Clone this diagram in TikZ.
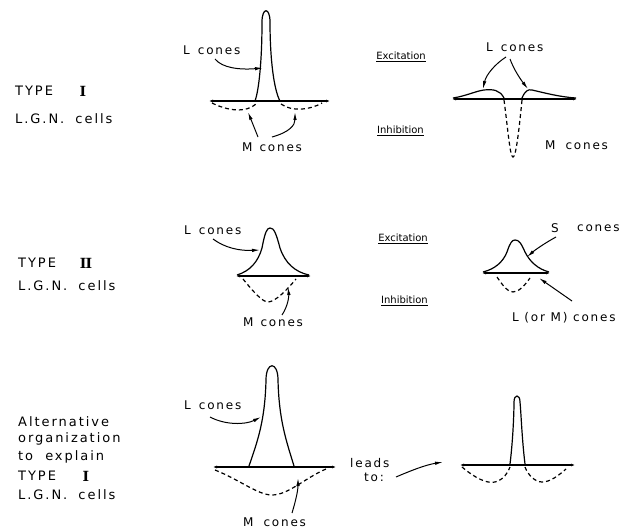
\documentclass[tikz,border=0pt]{standalone}
\usepackage{fontspec}
\setmainfont{DejaVu Sans}
\newfontfamily\lbl[LetterSpace=15]{DejaVu Sans}
\newfontfamily\lbls{DejaVu Sans}
\newfontfamily\rom{DejaVu Serif}
\usetikzlibrary{arrows.meta}
\begin{document}
\begin{tikzpicture}[x=1pt,y=-1pt,
 curve/.style={line width=1.2pt},
 inhib/.style={line width=1.2pt, dash pattern=on 4pt off 3pt},
 axis/.style={line width=1.5pt, {Latex[length=4pt,width=3pt]}-{Latex[length=4pt,width=3pt]}},
 pointer/.style={line width=1pt, -{Latex[length=8pt,width=3.5pt]}},
 lab/.style={font=\lbl\fontsize{12}{14}\selectfont, inner sep=0pt, anchor=west},
 side/.style={font=\lbl\fontsize{13}{15}\selectfont, inner sep=0pt, anchor=west},
 ei/.style={font=\lbls\fontsize{10}{12}\selectfont, inner sep=0pt, anchor=east},
 numeral/.style={font=\rom\bfseries\fontsize{14}{15}\selectfont, inner sep=0pt},
]
\useasboundingbox (0,0) rectangle (636,529);

% ---------- side labels ----------
\node[side] (t1a) at (15,91) {TYPE};
\node[numeral] (n1) at (83,91) {I};
\node[side] (t1b) at (15,119) {L.G.N.\hspace{5pt} cells};
\node[side] (t2a) at (18,263) {TYPE};
\node[numeral] (n2) at (86,263) {I\kern-0.8pt I};
\node[side] (t2b) at (18,286) {L.G.N.\hspace{5pt} cells};
\node[side] (t3a) at (18,422) {Alternative};
\node[side] (t3b) at (18,439) {organization};
\node[side] (t3c) at (18,457) {to\hspace{6pt} explain};
\node[side] (t3d) at (18,476) {TYPE};
\node[numeral] (n3) at (86,476) {I};
\node[side] (t3e) at (18,495) {L.G.N.\hspace{5pt} cells};

% ---------- Excitation / Inhibition ----------
\node[ei] (ex1) at (426,57) {\underline{Excitation}};
\node[ei] (in1) at (424,131) {\underline{Inhibition}};
\node[ei] (ex2) at (428,239) {\underline{Excitation}};
\node[ei] (in2) at (428,301) {\underline{Inhibition}};

% ---------- Panel 1 : Type I, left ----------
\draw[axis] (209,101) -- (330,101);
\draw[curve] (255,101) .. controls (259,90) and (262,60) .. (262,22)
  .. controls (262,7) and (270,7) .. (270,22)
  .. controls (270,60) and (274,90) .. (280,101);
\draw[inhib] (212,103) .. controls (228,111) and (246,113) .. (256,104);
\draw[inhib] (281,104) .. controls (292,112) and (310,110) .. (322,103);
\node[lab] (p1L) at (183,50) {L\hspace{8pt}cones};
\node[lab] (p1M) at (242,147) {M\hspace{7pt}cones};
\coordinate (p1Ls) at (215,59);
\coordinate (p1Le) at (263,68);
\draw[pointer] (p1Ls) .. controls (222,68) and (240,70) .. (p1Le);
\coordinate (p1Ms1) at (258,137);
\coordinate (p1Me1) at (248,112);
\draw[pointer] (p1Ms1) -- (p1Me1);
\coordinate (p1Ms2) at (272,137);
\coordinate (p1Me2) at (295,112);
\draw[pointer] (p1Ms2) .. controls (290,132) and (295,125) .. (p1Me2);

% ---------- Panel 2 : Type I, right ----------
\draw[axis] (452,99) -- (577,99);
\draw[curve] (453,98) .. controls (466,96) and (476,91) .. (484,90)
  .. controls (493,89) and (500,90) .. (504,98);
\draw[curve] (522,98) .. controls (525,91) and (528,89) .. (532,90)
  .. controls (545,93) and (560,97) .. (576,98);
\draw[inhib] (504,100) .. controls (508,130) and (510,157) .. (513,157)
  .. controls (516,157) and (519,130) .. (522,100);
\node[lab] (p2L) at (486,47) {L\hspace{8pt}cones};
\node[lab] (p2M) at (545,145) {M\hspace{10pt}cones};
\coordinate (p2Ls1) at (506,57);
\coordinate (p2Le1) at (483,89);
\draw[pointer] (p2Ls1) .. controls (495,64) and (486,75) .. (p2Le1);
\coordinate (p2Ls2) at (510,59);
\coordinate (p2Le2) at (528,89);
\draw[pointer] (p2Ls2) .. controls (514,70) and (521,80) .. (p2Le2);

% ---------- Panel 3 : Type II, left ----------
\draw[axis] (236,276) -- (311,276);
\draw[curve] (237,275) .. controls (250,271) and (258,262) .. (262,248)
  .. controls (265,232) and (267,228) .. (270,228)
  .. controls (274,228) and (276,233) .. (280,248)
  .. controls (285,263) and (295,272) .. (309,275);
\draw[inhib] (243,279) .. controls (252,290) and (262,302) .. (268,302)
  .. controls (275,302) and (287,290) .. (296,279);
\node[lab] (p3L) at (184,230) {L\hspace{8pt}cones};
\node[lab] (p3M) at (243,322) {M\hspace{7pt}cones};
\coordinate (p3Ls) at (213,239);
\coordinate (p3Le) at (260,250);
\draw[pointer] (p3Ls) .. controls (225,248) and (240,251) .. (p3Le);
\coordinate (p3Ms) at (282,315);
\coordinate (p3Me) at (288,287);
\draw[pointer] (p3Ms) .. controls (288,306) and (289,296) .. (p3Me);

% ---------- Panel 4 : Type II, right ----------
\draw[axis] (482,273) -- (550,273);
\draw[curve] (483,272) .. controls (495,269) and (503,262) .. (507,252)
  .. controls (510,243) and (512,240) .. (515,240)
  .. controls (519,240) and (521,243) .. (525,252)
  .. controls (530,262) and (538,269) .. (549,272);
\draw[inhib] (497,277) .. controls (503,286) and (508,292) .. (513,292)
  .. controls (519,292) and (525,285) .. (530,278);
\node[lab] (p4S) at (551,228) {S};
\node[lab] (p4Sc) at (577,228) {cones};
\node[lab] (p4L) at (512,318) {L (or M) cones};
\coordinate (p4Ss) at (556,237);
\coordinate (p4Se) at (527,257);
\draw[pointer] (p4Ss) .. controls (545,243) and (535,250) .. (p4Se);
\coordinate (p4Ls) at (572,301);
\coordinate (p4Le) at (539,278);
\draw[pointer] (p4Ls) -- (p4Le);

% ---------- Panel 5 : Alternative, left ----------
\draw[axis] (213,467) -- (336,467);
\draw[curve] (249,466) .. controls (258,440) and (265,420) .. (266,380)
  .. controls (266,361) and (278,361) .. (278,380)
  .. controls (279,420) and (286,440) .. (294,466);
\draw[inhib] (215,470) .. controls (240,480) and (258,495) .. (272,495)
  .. controls (288,495) and (305,478) .. (326,469);
\node[lab] (p5L) at (184,405) {L\hspace{8pt}cones};
\node[lab] (p5M) at (243,522) {M\hspace{10pt}cones};
\coordinate (p5Ls) at (210,417);
\coordinate (p5Le) at (261,417);
\draw[pointer] (p5Ls) .. controls (225,425) and (245,425) .. (p5Le);
\coordinate (p5Ms) at (292,513);
\coordinate (p5Me) at (298,478);
\draw[pointer] (p5Ms) .. controls (296,500) and (298,490) .. (p5Me);

% ---------- leads to ----------
\node[lab] (lead1) at (350,463) {leads};
\node[lab] (lead2) at (364,477) {to:};
\coordinate (leadS) at (396,477);
\coordinate (leadE) at (443,462);
\draw[pointer] (leadS) .. controls (410,471) and (425,465) .. (leadE);

% ---------- Panel 6 : result ----------
\draw[axis] (460,465) -- (575,465);
\draw[curve] (510,464) .. controls (513,440) and (514,412) .. (514,402)
  .. controls (514,394) and (520,394) .. (520,402)
  .. controls (521,412) and (522,440) .. (525,464);
\draw[inhib] (462,467) .. controls (475,478) and (487,484) .. (495,482)
  .. controls (503,480) and (508,473) .. (510,467);
\draw[inhib] (525,467) .. controls (528,475) and (535,482) .. (542,482)
  .. controls (550,482) and (558,476) .. (566,469);
\end{tikzpicture}
\end{document}
